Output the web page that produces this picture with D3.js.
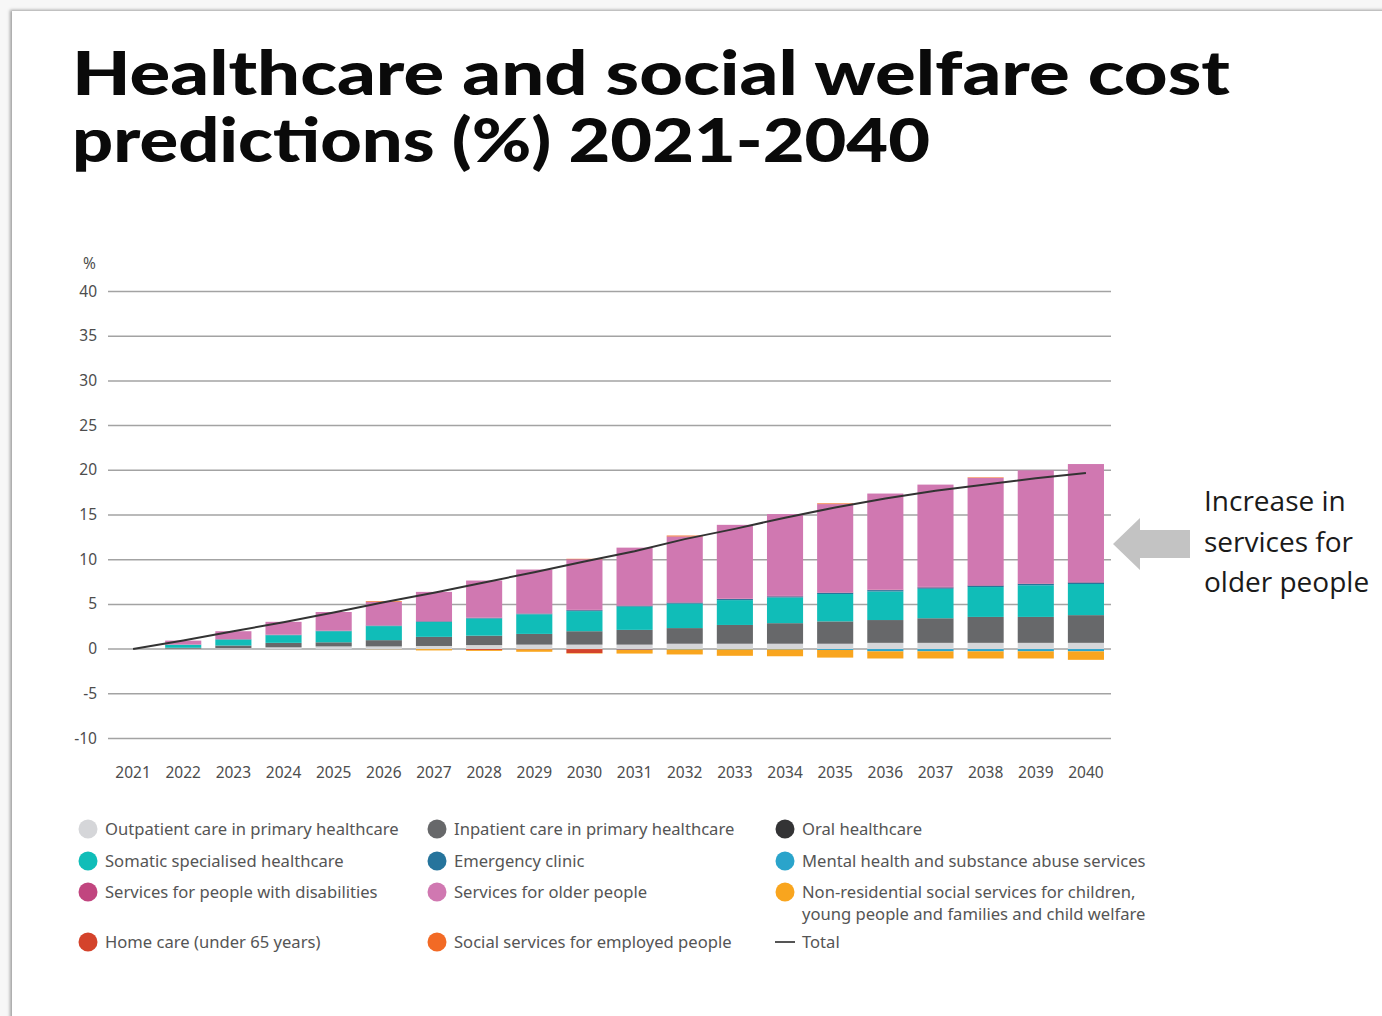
<!DOCTYPE html>
<html>
<head>
<meta charset="utf-8">
<script src="https://cdn.jsdelivr.net/npm/d3@7"></script>
<style>
  html, body { margin: 0; padding: 0; background: #f7f7f7; }
  body { width: 1382px; height: 1016px; overflow: hidden; position: relative; }
  #card {
    position: absolute; left: 12px; top: 11px; width: 1380px; height: 1020px;
    background: #fff;
    box-shadow: -2px -1px 3px rgba(0,0,0,0.35);
  }
  #chart { position: absolute; left: 0; top: 0; }
  .tick-label { font-family: "Noto Sans", sans-serif; font-size: 15.5px; fill: #4d4d4d; }
  .legend-label { font-family: "Noto Sans", sans-serif; font-size: 16.6px; fill: #555; }
  .title { font-family: Lato, "Inter", sans-serif; font-weight: 900; font-size: 60px; fill: #0a0a0a; }
  .note { font-family: "Open Sans", sans-serif; font-size: 28px; fill: #1a1a1a; }
  .gridline { stroke: #a3a3a3; stroke-width: 1.5; }
</style>
</head>
<body>
<div id="card"></div>
<svg id="chart" width="1382" height="1016"></svg>
<script>
// Years on the x axis
const years = ["2021","2022","2023","2024","2025","2026","2027","2028","2029","2030",
               "2031","2032","2033","2034","2035","2036","2037","2038","2039","2040"];

// Series values (% change vs 2021)
const outpatient   = [0, 0.05, 0.1, 0.2, 0.3, 0.3, 0.35, 0.45, 0.5, 0.5, 0.5, 0.6, 0.6, 0.6, 0.6, 0.7, 0.7, 0.7, 0.7, 0.7];
const inpatient    = [0, 0.1, 0.3, 0.5, 0.46, 0.7, 1.02, 1.05, 1.2, 1.5, 1.65, 1.75, 2.1, 2.3, 2.5, 2.55, 2.75, 2.9, 2.9, 3.1];
const oral         = [0, 0, 0, 0, 0, 0, 0, 0, 0, 0, 0, 0, 0, 0, 0, 0, 0, 0, 0, 0];
const somatic      = [0, 0.33, 0.67, 0.85, 1.24, 1.57, 1.66, 1.92, 2.19, 2.25, 2.6, 2.73, 2.78, 2.87, 3.06, 3.2, 3.3, 3.34, 3.54, 3.48];
const emergency    = [0, 0.02, 0.03, 0.05, 0.05, 0.06, 0.07, 0.08, 0.08, 0.1, 0.1, 0.12, 0.12, 0.13, 0.14, 0.15, 0.15, 0.16, 0.16, 0.17];
const mental       = [0, 0, 0, 0, 0, 0, 0, 0, 0, 0, -0.05, -0.05, -0.05, -0.05, -0.1, -0.25, -0.25, -0.25, -0.25, -0.25];
const disabilities = [0, 0.01, 0.02, 0.02, 0.03, 0.03, 0.03, 0.04, 0.04, 0.04, 0.05, 0.05, 0.05, 0.05, 0.05, 0.06, 0.06, 0.06, 0.06, 0.06];
const olderPeople  = [0, 0.44, 0.88, 1.43, 2.07, 2.61, 3.27, 4.13, 4.89, 5.66, 6.45, 7.35, 8.25, 9.15, 9.87, 10.74, 11.44, 11.98, 12.64, 13.19];
const homeCare     = [0, 0, 0, 0, 0, 0, 0, -0.1, -0.05, -0.45, -0.05, 0, 0, 0, 0, 0, 0, 0, 0, 0];
const nonResidential = [0, 0, 0, 0, 0, -0.02, -0.15, -0.1, -0.25, -0.05, -0.4, -0.55, -0.7, -0.75, -0.85, -0.8, -0.8, -0.8, -0.8, -0.95];
const socialEmployed = [0, 0, 0, 0, 0, 0.08, 0, 0, 0, 0.05, 0, 0.1, 0, 0, 0.08, 0, 0, 0.06, 0, 0];
const total        = [0, 0.95, 2.0, 3.0, 4.1, 5.25, 6.3, 7.45, 8.6, 9.8, 10.95, 12.3, 13.45, 14.7, 15.85, 16.85, 17.7, 18.4, 19.1, 19.7];

const yTicks = [40, 35, 30, 25, 20, 15, 10, 5, 0, -5, -10];

// Series definitions: key, legend label, colour (stack order)
const seriesDefs = [
  { key: "outpatient",     label: ["Outpatient care in primary healthcare"], color: "#d5d6d9", values: outpatient },
  { key: "inpatient",      label: ["Inpatient care in primary healthcare"],  color: "#67686a", values: inpatient },
  { key: "oral",           label: ["Oral healthcare"],                        color: "#333335", values: oral },
  { key: "somatic",        label: ["Somatic specialised healthcare"],         color: "#10bdb8", values: somatic },
  { key: "emergency",      label: ["Emergency clinic"],                       color: "#26749c", values: emergency },
  { key: "mental",         label: ["Mental health and substance abuse services"], color: "#2aa4cb", values: mental },
  { key: "disabilities",   label: ["Services for people with disabilities"],  color: "#c1457f", values: disabilities },
  { key: "olderPeople",    label: ["Services for older people"],              color: "#d078b1", values: olderPeople },
  { key: "homeCare",       label: ["Home care (under 65 years)"],             color: "#d4432b", values: homeCare },
  { key: "nonResidential", label: ["Non-residential social services for children,", "young people and families and child welfare"], color: "#f9a51e", values: nonResidential },
  { key: "socialEmployed", label: ["Social services for employed people"],   color: "#f26a25", values: socialEmployed }
];

// Legend layout: rows of three columns, as in the figure
const legendOrder = [
  ["outpatient", "inpatient", "oral"],
  ["somatic", "emergency", "mental"],
  ["disabilities", "olderPeople", "nonResidential"],
  ["homeCare", "socialEmployed", "total"]
];

const svg = d3.select("#chart");

// Title
const title = svg.append("g");
title.append("text").attr("class", "title")
  .attr("x", 72).attr("y", 95)
  .attr("textLength", 1158).attr("lengthAdjust", "spacingAndGlyphs")
  .text("Healthcare and social welfare cost");
title.append("text").attr("class", "title")
  .attr("x", 72).attr("y", 162)
  .attr("textLength", 858).attr("lengthAdjust", "spacingAndGlyphs")
  .text("predictions (%) 2021-2040");

// Scales
const x = d3.scaleBand().domain(years).range([108, 1111]).paddingInner(0.28).paddingOuter(0.14);
const y = d3.scaleLinear().domain([-10, 40]).range([738.5, 291.5]);

// Grid + y labels
const grid = svg.append("g");
yTicks.forEach(t => {
  grid.append("line").attr("class", "gridline")
    .attr("x1", 108).attr("x2", 1111)
    .attr("y1", y(t)).attr("y2", y(t));
  grid.append("text").attr("class", "tick-label")
    .attr("x", 97).attr("y", y(t) + 5)
    .attr("text-anchor", "end")
    .text(t);
});
grid.append("text").attr("class", "tick-label")
  .attr("x", 96).attr("y", y(40) - 23)
  .attr("text-anchor", "end")
  .text("%");

// x labels
svg.append("g").selectAll("text").data(years).join("text")
  .attr("class", "tick-label")
  .attr("x", d => x(d) + x.bandwidth() / 2)
  .attr("y", 778)
  .attr("text-anchor", "middle")
  .text(d => d);

// Stacked bars
const table = years.map((yr, i) => {
  const row = { year: yr };
  seriesDefs.forEach(s => { row[s.key] = s.values[i]; });
  return row;
});
const stack = d3.stack()
  .keys(seriesDefs.map(s => s.key))
  .offset(d3.stackOffsetDiverging);
const stacked = stack(table);
const colorOf = Object.fromEntries(seriesDefs.map(s => [s.key, s.color]));

svg.append("g").selectAll("g").data(stacked).join("g")
  .attr("fill", d => colorOf[d.key])
  .selectAll("rect").data(d => d).join("rect")
  .attr("x", d => x(d.data.year))
  .attr("width", x.bandwidth())
  .attr("y", d => y(Math.max(d[0], d[1])))
  .attr("height", d => Math.abs(y(d[0]) - y(d[1])));

// Total line
const line = d3.line()
  .x((d, i) => x(years[i]) + x.bandwidth() / 2)
  .y(d => y(d));
svg.append("path").datum(total)
  .attr("d", line)
  .attr("fill", "none")
  .attr("stroke", "#333")
  .attr("stroke-width", 2);

// Annotation arrow and text
svg.append("path")
  .attr("d", "M1113,544 L1140,518 L1140,530 L1190,530 L1190,558 L1140,558 L1140,570 Z")
  .attr("fill", "#c3c3c3");
const note = svg.append("text").attr("class", "note");
["Increase in", "services for", "older people"].forEach((t, i) => {
  note.append("tspan").attr("x", 1204).attr("y", 511 + i * 40.5).text(t);
});

// Legend
const colX = [88, 437, 785];
const rowY = [829, 861, 892, 942];
const legend = svg.append("g");
legendOrder.forEach((row, r) => {
  row.forEach((key, c) => {
    const cx = colX[c], cy = rowY[r];
    if (key === "total") {
      legend.append("line")
        .attr("x1", cx - 10).attr("x2", cx + 10)
        .attr("y1", cy).attr("y2", cy)
        .attr("stroke", "#555").attr("stroke-width", 2);
      legend.append("text").attr("class", "legend-label")
        .attr("x", cx + 17).attr("y", cy + 6).text("Total");
      return;
    }
    const s = seriesDefs.find(d => d.key === key);
    legend.append("circle").attr("cx", cx).attr("cy", cy).attr("r", 9.5).attr("fill", s.color);
    const t = legend.append("text").attr("class", "legend-label");
    s.label.forEach((ln, i) => {
      t.append("tspan").attr("x", cx + 17).attr("y", cy + 6 + i * 22).text(ln);
    });
  });
});
</script>
</body>
</html>
